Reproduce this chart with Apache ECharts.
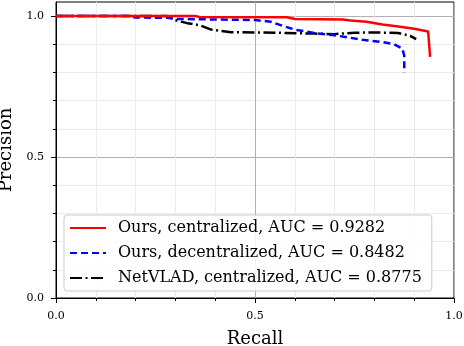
<!DOCTYPE html>
<html>
<head>
<meta charset="utf-8">
<script src="https://cdn.jsdelivr.net/npm/echarts@6/dist/echarts.min.js"></script>
<style>
  html, body { margin: 0; padding: 0; background: #fff; }
  #chart { width: 464px; height: 346px; }
</style>
</head>
<body>
<div id="chart"></div>
<script>
// 曲线数据 (recall, precision)
var seriesNames = [
  'Ours, centralized, AUC = 0.9282',
  'Ours, decentralized, AUC = 0.8482',
  'NetVLAD, centralized, AUC = 0.8775'
];
var oursCentRecall = [0, 0.35, 0.36, 0.58, 0.60, 0.72, 0.74, 0.78, 0.82, 0.86, 0.90, 0.935, 0.94, 0.94];
var oursCentPrec   = [1.0, 1.0, 0.997, 0.996, 0.99, 0.988, 0.984, 0.98, 0.97, 0.963, 0.955, 0.945, 0.94, 0.855];
var oursDecRecall = [0, 0.18, 0.20, 0.28, 0.30, 0.50, 0.54, 0.57, 0.60, 0.65, 0.70, 0.77, 0.82, 0.85, 0.87, 0.875, 0.875];
var oursDecPrec   = [1.0, 1.0, 0.995, 0.994, 0.99, 0.986, 0.98, 0.965, 0.952, 0.94, 0.932, 0.916, 0.908, 0.90, 0.885, 0.86, 0.80];
var netvladRecall = [0, 0.28, 0.30, 0.33, 0.36, 0.39, 0.44, 0.55, 0.65, 0.70, 0.75, 0.80, 0.86, 0.89, 0.905];
var netvladPrec   = [1.0, 1.0, 0.985, 0.975, 0.968, 0.952, 0.943, 0.941, 0.938, 0.936, 0.941, 0.942, 0.94, 0.93, 0.918];
var tickValues = [0, 0.5, 1.0];

function zip(xs, ys) {
  return xs.map(function (x, i) { return [x, ys[i]]; });
}

var serif = 'DejaVu Serif';
var chart = echarts.init(document.getElementById('chart'));

function axisCommon(max) {
  return {
    type: 'value',
    min: 0,
    max: max,
    interval: 0.5,
    axisLine: { show: true, onZero: false, lineStyle: { color: '#000', width: 1 } },
    axisTick: { show: true, length: 5, customValues: tickValues, lineStyle: { color: '#000' } },
    minorTick: { show: true, splitNumber: 5, length: 3, lineStyle: { color: '#000' } },
    splitLine: { show: true, lineStyle: { color: '#b0b0b0', width: 1 } },
    minorSplitLine: { show: true, lineStyle: { color: '#ebebeb', width: 1 } },
    axisLabel: {
      customValues: tickValues,
      fontFamily: serif, fontSize: 11, color: '#000',
      formatter: function (v) { return v.toFixed(1); }
    },
    nameTextStyle: { fontFamily: serif, fontSize: 18, color: '#000' }
  };
}

var xAxis = axisCommon(1.0);
xAxis.name = 'Recall';
xAxis.nameLocation = 'middle';
xAxis.nameGap = 32;
xAxis.axisLabel.margin = 13;

var yAxis = axisCommon(1.05);
yAxis.name = 'Precision';
yAxis.nameLocation = 'middle';
yAxis.nameGap = 30;
yAxis.axisLabel.margin = 12;

chart.setOption({
  animation: false,
  grid: {
    left: 56, right: 10, top: 2, bottom: 48,
    outerBoundsMode: 'none', containLabel: false,
    show: true, borderColor: '#000', borderWidth: 1, backgroundColor: 'transparent'
  },
  legend: {
    orient: 'vertical',
    left: 64, top: 215,
    padding: [5, 10, 5, 5],
    itemWidth: 36, itemHeight: 14, itemGap: 9,
    itemStyle: { opacity: 0 },
    backgroundColor: 'rgba(255,255,255,0.85)',
    borderColor: '#cccccc', borderWidth: 1, borderRadius: 3,
    textStyle: { fontFamily: serif, fontSize: 16, color: '#000', padding: [0, 0, 0, 7] },
    data: seriesNames
  },
  xAxis: xAxis,
  yAxis: yAxis,
  series: [
    {
      name: seriesNames[0], type: 'line', symbol: 'none',
      data: zip(oursCentRecall, oursCentPrec),
      lineStyle: { color: '#ff0000', width: 2.5 }, itemStyle: { color: '#ff0000' }, z: 5
    },
    {
      name: seriesNames[1], type: 'line', symbol: 'none',
      data: zip(oursDecRecall, oursDecPrec),
      lineStyle: { color: '#0000ff', width: 2.5, type: [7, 4] }, itemStyle: { color: '#0000ff' }, z: 4
    },
    {
      name: seriesNames[2], type: 'line', symbol: 'none',
      data: zip(netvladRecall, netvladPrec),
      lineStyle: { color: '#000', width: 2.5, type: [12, 3.5, 2, 3.5] }, itemStyle: { color: '#000' }, z: 3
    }
  ]
});
</script>
</body>
</html>
